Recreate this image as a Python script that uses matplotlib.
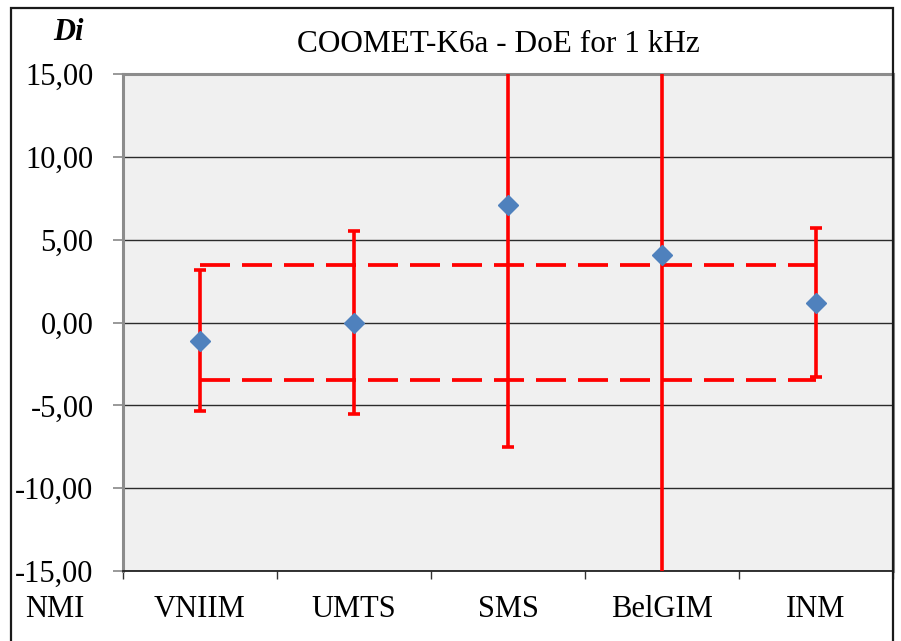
import matplotlib
matplotlib.use("Agg")
import matplotlib.pyplot as plt
from matplotlib.patches import Rectangle
from matplotlib.ticker import FuncFormatter, FixedLocator

# ---- data ----
labs = ["VNIIM", "UMTS", "SMS", "BelGIM", "INM"]
di = [-1.1, 0.0, 7.1, 4.1, 1.2]
unc = [4.25, 5.55, 14.6, 20.0, 4.5]
ref_band = [3.5, -3.5]
yticks = [15, 10, 5, 0, -5, -10, -15]
title = "COOMET-K6a - DoE for 1 kHz"

plt.rcParams['font.family'] = ['Liberation Serif', 'DejaVu Serif']
plt.rcParams['lines.scale_dashes'] = False

W, H = 901, 641
fig = plt.figure(figsize=(W / 100, H / 100), dpi=100)

def fx(px):
    return px / W

def fy(py):
    return 1 - py / H

ax = fig.add_axes([fx(123), fy(571), fx(893) - fx(123), fy(74) - fy(571)])
ax.set_facecolor('#F0F0F0')

x = list(range(1, len(labs) + 1))

# gridlines
for yv in yticks:
    ax.axhline(yv, color='#2b2b2b', lw=1.0, zorder=1)

# reference band (dashed)
for yv in ref_band:
    ax.plot([x[0], x[-1]], [yv, yv], color='#FF0000', lw=2.7,
            dashes=(30 * 0.72, 12 * 0.72), zorder=3, solid_capstyle='butt',
            dash_capstyle='butt')

# error bars
ax.errorbar(x, di, yerr=unc, fmt='none', ecolor='#FF0000', elinewidth=2.6,
            capsize=4, capthick=2.6, zorder=4)
ax.plot(x, di, linestyle='none', marker='D', ms=10, color='#4F81BD',
        markeredgecolor='#4F81BD', zorder=5)

ax.set_xlim(0.5, len(labs) + 0.5)
ax.set_ylim(-15, 15)

# y ticks
ax.yaxis.set_major_locator(FixedLocator(yticks))
ax.yaxis.set_major_formatter(FuncFormatter(lambda v, p: f"{v:.2f}".replace('.', ',')))
ax.tick_params(axis='y', which='major', length=7.2, width=1.2, color='#888888',
               pad=14, labelsize=22)

# x ticks: boundaries (major), labels (minor)
ax.xaxis.set_major_locator(FixedLocator([i + 0.5 for i in range(0, len(labs) + 1)]))
ax.xaxis.set_major_formatter(FuncFormatter(lambda v, p: ''))
ax.xaxis.set_minor_locator(FixedLocator(x))
ax.set_xticklabels(labs, minor=True)
ax.tick_params(axis='x', which='major', length=6, width=1.0, color='#333333')
ax.tick_params(axis='x', which='minor', length=0, pad=17, labelsize=22)

for s in ['top', 'left']:
    ax.spines[s].set_color('#8c8c8c')
    ax.spines[s].set_linewidth(2.2)
ax.spines['bottom'].set_color('#222222')
ax.spines['bottom'].set_linewidth(1.3)
ax.spines['right'].set_color('#8c8c8c')
ax.spines['right'].set_linewidth(2.2)

# texts
fig.text(fx(498), fy(52), title, fontsize=22.5, ha='center', va='baseline')
fig.text(fx(68), fy(40), "Di", fontsize=22, ha='center', va='baseline',
         fontweight='bold', fontstyle='italic')
fig.text(fx(55), fy(617), "NMI", fontsize=22, ha='center', va='baseline')

# figure border
fig.patches.append(Rectangle((fx(10.5), fy(660)), fx(893) - fx(10.5), fy(7.5) - fy(660),
                             transform=fig.transFigure, fill=False,
                             edgecolor='#1a1a1a', lw=1.6, zorder=10))

fig.savefig("out.png", dpi=100)
